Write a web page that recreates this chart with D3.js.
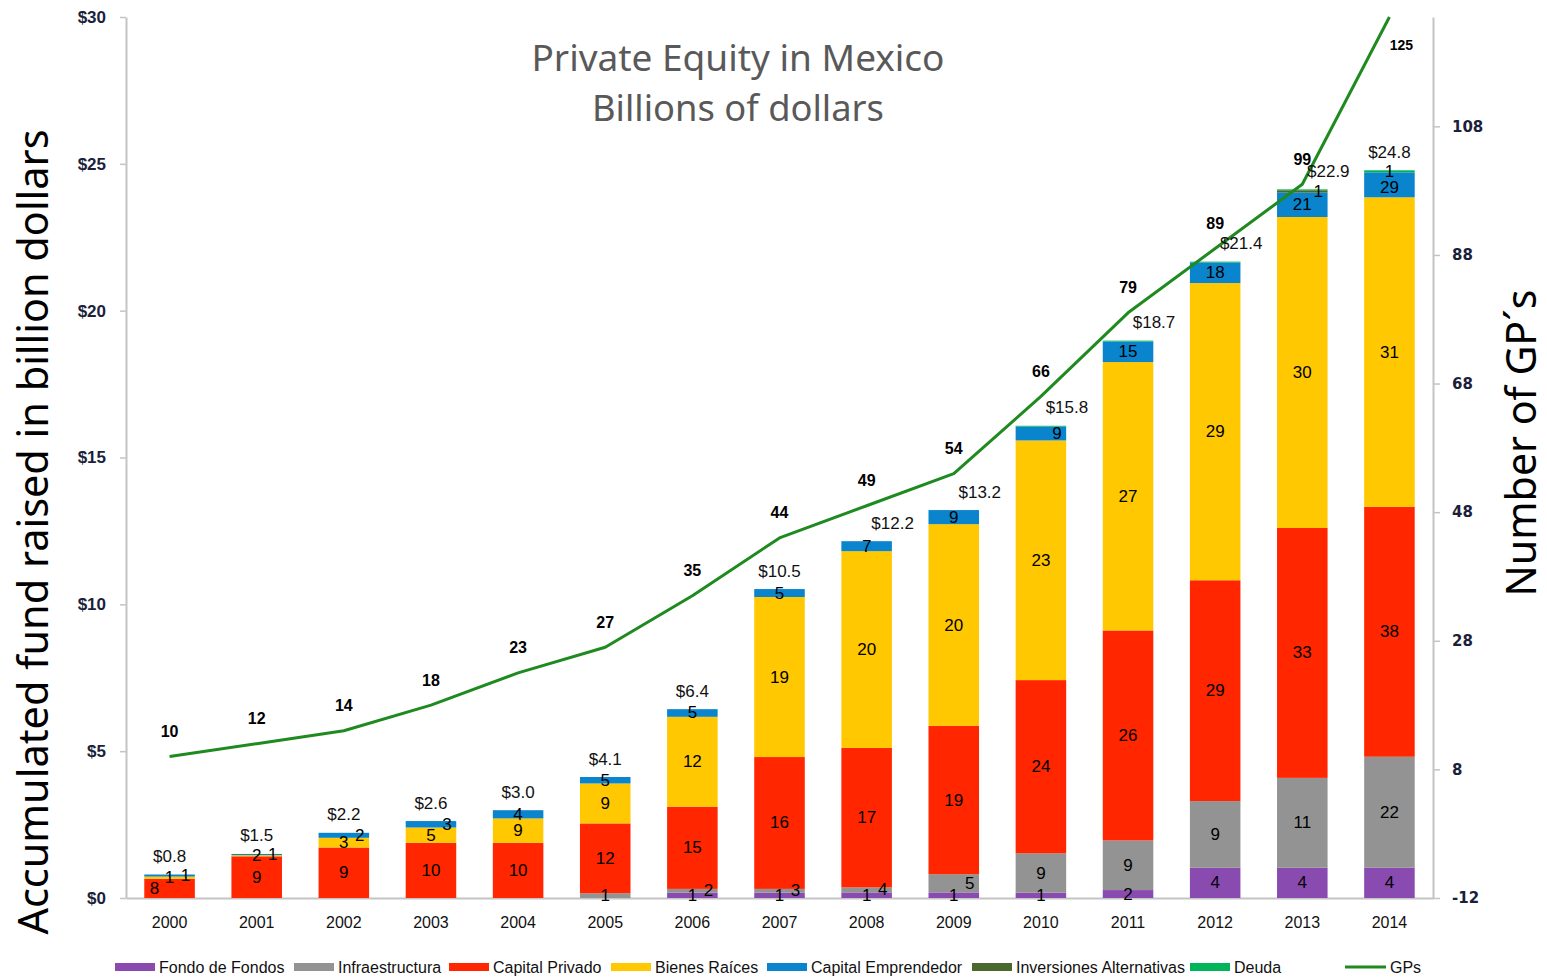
<!DOCTYPE html>
<html>
<head>
<meta charset="utf-8">
<script src="https://cdn.jsdelivr.net/npm/d3@7"></script>
<style>
  html, body { margin: 0; padding: 0; background: #fff; }
  svg { display: block; }
</style>
</head>
<body>
<svg id="chart" width="1547" height="978"></svg>
<script>
// ---------- DATA ----------
const years = ['2000','2001','2002','2003','2004','2005','2006','2007','2008','2009','2010','2011','2012','2013','2014'];

// amounts (billions of dollars) per segment
const fondoDeFondos          = [0,    0,    0,    0,    0,    0,    0.18, 0.18, 0.19, 0.19, 0.18, 0.27, 1.03, 1.03, 1.03];
const infraestructura        = [0,    0,    0,    0,    0,    0.16, 0.13, 0.13, 0.17, 0.62, 1.34, 1.69, 2.27, 3.06, 3.78];
const capitalPrivado         = [0.65, 1.42, 1.72, 1.88, 1.88, 2.38, 2.80, 4.49, 4.75, 5.05, 5.90, 7.15, 7.52, 8.51, 8.51];
const bienesRaices           = [0.08, 0.04, 0.33, 0.52, 0.83, 1.36, 3.06, 5.45, 6.70, 6.87, 8.16, 9.14, 10.12, 10.59, 10.54];
const capitalEmprendedor     = [0.07, 0.04, 0.17, 0.22, 0.28, 0.22, 0.26, 0.27, 0.34, 0.48, 0.47, 0.70, 0.70, 0.83, 0.85];
const inversionesAlternativas= [0,    0,    0,    0,    0,    0,    0,    0,    0,    0,    0,    0,    0,    0.08, 0];
const deuda                  = [0,    0,    0,    0,    0,    0,    0,    0,    0,    0,    0.03, 0.03, 0.03, 0.03, 0.07];

// number of funds shown as labels inside each segment (null = no label)
const fondoCounts        = [null,null,null,null,null,null,1,1,1,1,1,2,4,4,4];
const infraCounts        = [null,null,null,null,null,1,2,3,4,5,9,9,9,11,22];
const privadoCounts      = [8,9,9,10,10,12,15,16,17,19,24,26,29,33,38];
const bienesCounts       = [1,2,3,5,9,9,12,19,20,20,23,27,29,30,31];
const emprendedorCounts  = [1,1,2,3,4,5,5,5,7,9,9,15,18,21,29];
const inversionesCounts  = [null,null,null,null,null,null,null,null,null,null,null,null,null,1,null];
const deudaCounts        = [null,null,null,null,null,null,null,null,null,null,null,null,null,null,1];

// total labels (billions)
const totals = [0.8,1.5,2.2,2.6,3.0,4.1,6.4,10.5,12.2,13.2,15.8,18.7,21.4,22.9,24.8];

// number of GPs (line, right axis)
const gps = [10,12,14,18,23,27,35,44,49,54,66,79,89,99,125];

const leftTicks  = [0,5,10,15,20,25,30];
const rightTicks = [-12,8,28,48,68,88,108];

const seriesNames = ['Fondo de Fondos','Infraestructura','Capital Privado','Bienes Raíces','Capital Emprendedor','Inversiones Alternativas','Deuda'];
const seriesValues = [fondoDeFondos, infraestructura, capitalPrivado, bienesRaices, capitalEmprendedor, inversionesAlternativas, deuda];
const seriesCounts = [fondoCounts, infraCounts, privadoCounts, bienesCounts, emprendedorCounts, inversionesCounts, deudaCounts];
const seriesColors = ['#8a4bb0','#939393','#ff2600','#ffc800','#0a84cc','#4a6a2c','#00b45a'];
const lineColor = '#1f8a1f';

// ---------- LAYOUT ----------
const svg = d3.select('#chart');
const plotLeft = 126, plotRight = 1433, plotTop = 17, plotBottom = 898;

const x = d3.scaleBand().domain(years).range([plotLeft, plotRight]).paddingInner(0.42).paddingOuter(0.21);
const y = d3.scaleLinear().domain([0, 30]).range([plotBottom, plotTop]);
const y2 = d3.scaleLinear().domain([-12, 125]).range([plotBottom, plotTop]);

// stacked data
const table = years.map((yr, i) => {
  const o = { year: yr };
  seriesNames.forEach((n, k) => o[n] = seriesValues[k][i]);
  return o;
});
const stack = d3.stack().keys(seriesNames)(table);

// ---------- AXES ----------
const axisColor = '#c4c4c4';

const gLeft = svg.append('g').attr('transform', `translate(${plotLeft},0)`)
  .call(d3.axisLeft(y).tickValues(leftTicks).tickFormat(d => '$' + d).tickSize(6).tickSizeOuter(0));
gLeft.select('.domain').attr('stroke', axisColor).attr('stroke-width', 2);
gLeft.selectAll('.tick line').attr('stroke', axisColor).attr('stroke-width', 1.5);
gLeft.selectAll('.tick text').attr('x', -20).attr('fill', '#1b1f3b')
  .style('font-family', '"Liberation Sans", Arial, sans-serif').style('font-size', '17px').style('font-weight', 'bold');

const gRight = svg.append('g').attr('transform', `translate(${plotRight},0)`)
  .call(d3.axisRight(y2).tickValues(rightTicks).tickFormat(d => String(d)).tickSize(7).tickSizeOuter(0));
gRight.select('.domain').attr('stroke', axisColor).attr('stroke-width', 2);
gRight.selectAll('.tick line').attr('stroke', axisColor).attr('stroke-width', 1.5);
gRight.selectAll('.tick text').attr('x', 19).attr('text-anchor', 'start').attr('fill', '#1b1f3b')
  .style('font-family', '"DejaVu Sans", Verdana, sans-serif').style('font-size', '15px').style('font-weight', 'bold');

const gBottom = svg.append('g').attr('transform', `translate(0,${plotBottom})`)
  .call(d3.axisBottom(x).tickSize(0).tickSizeOuter(0));
gBottom.select('.domain').attr('stroke', axisColor).attr('stroke-width', 2);
gBottom.selectAll('.tick text').attr('y', 19).attr('fill', '#111')
  .style('font-family', '"Liberation Sans", Arial, sans-serif').style('font-size', '16px');

// ---------- BARS ----------
const gBars = svg.append('g');
stack.forEach((layer, k) => {
  gBars.append('g').attr('fill', seriesColors[k])
    .selectAll('rect').data(layer).join('rect')
    .attr('x', d => x(d.data.year))
    .attr('width', x.bandwidth())
    .attr('y', d => y(d[1]))
    .attr('height', d => Math.max(0, y(d[0]) - y(d[1])));
});

// segment labels (fund counts)
const gLab = svg.append('g')
  .style('font-family', '"Liberation Sans", Arial, sans-serif').style('font-size', '17px').attr('fill', '#000');
const smallPx = 18.5;
years.forEach((yr, i) => {
  const cx = x(yr) + x.bandwidth() / 2;
  const segs = stack.map((layer, k) => {
    const d = layer[i];
    return { k, y0: y(d[0]), y1: y(d[1]), h: y(d[0]) - y(d[1]), count: seriesCounts[k][i], dx: 0 };
  }).filter(s => s.h > 0);
  // runs of thin segments: the top-most labelled one is pushed to the right
  let run = [];
  const runs = [];
  segs.forEach(s => {
    if (s.h < smallPx) run.push(s);
    else { if (run.length) runs.push(run); run = []; }
  });
  if (run.length) runs.push(run);
  runs.forEach(r => {
    if (r.length < 2) return;
    const labelled = r.filter(s => s.count != null);
    if (labelled.length) labelled[labelled.length - 1].dx = 16;
  });
  const labelled = segs.filter(s => s.count != null);
  labelled.forEach(s => { s.ly = (s.y0 + s.y1) / 2; });
  // resolve a label that sits right under the one above it
  for (let j = labelled.length - 2; j >= 0; j--) {
    const a = labelled[j], b = labelled[j + 1];
    if (Math.abs(a.ly - b.ly) < 16 && Math.abs(a.dx - b.dx) < 12) {
      const target = b.ly + 16;
      if (target <= a.y0 - 8) a.ly = target;
      else a.dx -= 15;
    }
  }
  labelled.forEach(s => {
    gLab.append('text')
      .attr('x', cx + s.dx)
      .attr('y', s.ly)
      .attr('text-anchor', 'middle')
      .attr('dominant-baseline', 'central')
      .text(s.count);
  });
});

// ---------- GP LINE ----------
const line = d3.line().x(d => x(d.year) + x.bandwidth() / 2).y(d => y2(d.v));
const lineData = years.map((yr, i) => ({ year: yr, v: gps[i] }));
svg.append('path').datum(lineData)
  .attr('fill', 'none').attr('stroke', lineColor).attr('stroke-width', 3)
  .attr('stroke-linejoin', 'round')
  .attr('d', line);

// total labels
const gTot = svg.append('g')
  .style('font-family', '"Liberation Sans", Arial, sans-serif').style('font-size', '17px').attr('fill', '#111');
years.forEach((yr, i) => {
  const cx = x(yr) + x.bandwidth() / 2;
  const stackTop = y(d3.sum(seriesValues, s => s[i]));
  const ly = stackTop - 18;
  const lineY = y2(gps[i]);
  const dx = Math.abs(lineY - ly) < 26 ? 26 : 0;
  gTot.append('text')
    .attr('x', cx + dx).attr('y', ly)
    .attr('text-anchor', 'middle').attr('dominant-baseline', 'central')
    .text('$' + totals[i].toFixed(1));
});

// GP labels
const gGp = svg.append('g')
  .style('font-family', '"Liberation Sans", Arial, sans-serif').style('font-weight', 'bold').attr('fill', '#000');
lineData.forEach(d => {
  const cx = x(d.year) + x.bandwidth() / 2;
  let ly = y2(d.v) - 25, dx = 0, fs = 16;
  if (ly < plotTop + 12) { ly = y2(d.v) + 28; dx = 12; fs = 14; }
  gGp.append('text')
    .attr('x', cx + dx).attr('y', ly)
    .attr('text-anchor', 'middle').attr('dominant-baseline', 'central')
    .style('font-size', fs + 'px')
    .text(d.v);
});

// ---------- TITLES ----------
const titleFont = '"Noto Sans", "Open Sans", sans-serif';
svg.append('text').attr('x', 738).attr('y', 71).attr('text-anchor', 'middle')
  .attr('fill', '#595959').style('font-family', titleFont).style('font-size', '37px')
  .attr('textLength', 413).attr('lengthAdjust', 'spacingAndGlyphs')
  .text('Private Equity in Mexico');
svg.append('text').attr('x', 738).attr('y', 121).attr('text-anchor', 'middle')
  .attr('fill', '#595959').style('font-family', titleFont).style('font-size', '37px')
  .attr('textLength', 292).attr('lengthAdjust', 'spacingAndGlyphs')
  .text('Billions of dollars');

svg.append('text').attr('transform', 'translate(48,532) rotate(-90)').attr('text-anchor', 'middle')
  .attr('fill', '#000').style('font-family', titleFont).style('font-size', '42px')
  .attr('textLength', 805).attr('lengthAdjust', 'spacingAndGlyphs')
  .text('Accumulated fund raised in billion dollars');
svg.append('text').attr('transform', 'translate(1536,443) rotate(-90)').attr('text-anchor', 'middle')
  .attr('fill', '#000').style('font-family', titleFont).style('font-size', '42px')
  .attr('textLength', 307).attr('lengthAdjust', 'spacingAndGlyphs')
  .text('Number of GP´s');

// ---------- LEGEND ----------
const legendX = [115, 294, 449, 611, 767, 972, 1190];
const legendY = 967;
const gLeg = svg.append('g')
  .style('font-family', '"Liberation Sans", Arial, sans-serif').style('font-size', '16px').attr('fill', '#111');
seriesNames.forEach((n, k) => {
  gLeg.append('rect').attr('x', legendX[k]).attr('y', legendY - 4).attr('width', 40).attr('height', 8).attr('fill', seriesColors[k]);
  gLeg.append('text').attr('x', legendX[k] + 44).attr('y', legendY).attr('dominant-baseline', 'central').text(n);
});
gLeg.append('line').attr('x1', 1345).attr('x2', 1386).attr('y1', legendY).attr('y2', legendY)
  .attr('stroke', lineColor).attr('stroke-width', 3);
gLeg.append('text').attr('x', 1390).attr('y', legendY).attr('dominant-baseline', 'central').text('GPs');
</script>
</body>
</html>
